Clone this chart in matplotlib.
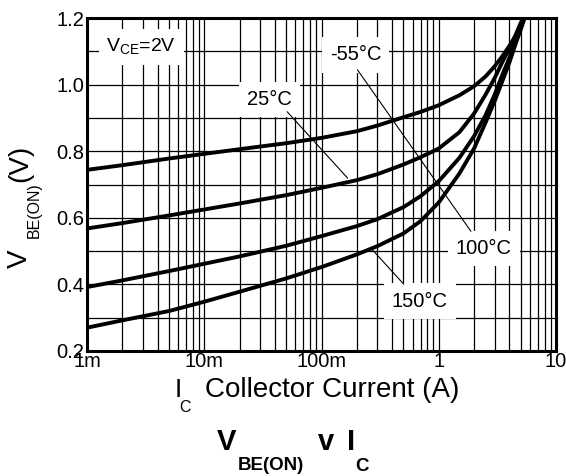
import matplotlib
matplotlib.use('Agg')
import matplotlib.pyplot as plt
from matplotlib.ticker import FixedLocator, FixedFormatter, LogLocator, NullFormatter

plt.rcParams['font.family'] = ['Liberation Sans', 'DejaVu Sans']
plt.rcParams['mathtext.fontset'] = 'custom'
plt.rcParams['mathtext.rm'] = 'Liberation Sans'
plt.rcParams['mathtext.bf'] = 'Liberation Sans:bold'

# collector current (A)
ic = [0.001, 0.002, 0.005, 0.01, 0.02, 0.05, 0.1, 0.2, 0.3, 0.5, 0.7, 1.0,
      1.5, 2.0, 2.5, 3.0, 3.5, 4.0, 4.5, 5.0]

# V_BE(ON) (V) per temperature
vbe_m55 = [0.744, 0.758, 0.778, 0.792, 0.806, 0.824, 0.840, 0.860, 0.877, 0.902, 0.918, 0.938,
           0.968, 0.995, 1.024, 1.055, 1.086, 1.116, 1.145, 1.178]
vbe_25 = [0.568, 0.584, 0.607, 0.625, 0.643, 0.668, 0.690, 0.713, 0.731, 0.760, 0.782, 0.808,
          0.857, 0.913, 0.969, 1.020, 1.069, 1.108, 1.147, 1.185]
vbe_100 = [0.392, 0.412, 0.440, 0.462, 0.484, 0.516, 0.545, 0.575, 0.596, 0.632, 0.665, 0.710,
           0.780, 0.845, 0.907, 0.970, 1.031, 1.080, 1.128, 1.170]
vbe_150 = [0.270, 0.292, 0.320, 0.348, 0.378, 0.418, 0.452, 0.490, 0.515, 0.553, 0.590, 0.646,
           0.733, 0.808, 0.885, 0.951, 1.012, 1.066, 1.120, 1.165]
# currents where the curves reach the top of the chart (1.2 V)
ic_end = [5.4, 5.25, 5.35, 5.4]

x_ticks = [0.001, 0.01, 0.1, 1, 10]
x_labels = ['1m', '10m', '100m', '1', '10']
y_ticks = [0.2, 0.4, 0.6, 0.8, 1.0, 1.2]
y_labels = ['0.2', '0.4', '0.6', '0.8', '1.0', '1.2']

W, H = 566, 476


def px(x, y):
    return x / W, 1 - y / H


fig = plt.figure(figsize=(W / 100, H / 100), dpi=100)
ax = fig.add_axes([87 / W, 1 - 351 / H, (556 - 87) / W, (351 - 18) / H])

series = [vbe_m55, vbe_25, vbe_100, vbe_150]
for v, xe in zip(series, ic_end):
    ax.plot(ic + [xe], v + [1.2], color='black', lw=2.8, zorder=3,
            solid_capstyle='butt', solid_joinstyle='round')

ax.set_xscale('log')
ax.set_xlim(0.001, 10)
ax.set_ylim(0.2, 1.2)

ax.xaxis.set_major_locator(FixedLocator(x_ticks))
ax.xaxis.set_major_formatter(FixedFormatter(x_labels))
ax.xaxis.set_minor_locator(LogLocator(base=10, subs=range(2, 10), numticks=20))
ax.xaxis.set_minor_formatter(NullFormatter())
ax.yaxis.set_major_locator(FixedLocator(y_ticks))
ax.yaxis.set_major_formatter(FixedFormatter(y_labels))
ax.yaxis.set_minor_locator(FixedLocator([0.3, 0.5, 0.7, 0.9, 1.1]))

ax.set_axisbelow(True)
ax.grid(True, which='both', color='black', lw=0.9)
ax.tick_params(which='both', length=0, labelsize=14.5, colors='black')
ax.tick_params(axis='x', pad=1)
ax.tick_params(axis='y', pad=2)
for s in ax.spines.values():
    s.set_linewidth(2.2)
    s.set_zorder(6)

box = dict(facecolor='white', edgecolor='none', boxstyle='square,pad=0.4')
ax.text(0.0029, 1.113, r'V$_{\mathregular{CE}}$=2V', fontsize=14, ha='center', va='center',
        bbox=box, zorder=4)
ax.text(0.195, 1.089, '-55°C', fontsize=14.5, ha='center', va='center', bbox=box, zorder=4)
ax.text(0.036, 0.954, '25°C', fontsize=14.5, ha='center', va='center', bbox=box, zorder=4)
ax.text(2.43, 0.509, '100°C', fontsize=14.5, ha='center', va='center', bbox=box, zorder=4)
ax.text(0.689, 0.350, '150°C', fontsize=14.5, ha='center', va='center', bbox=box, zorder=4)

# leader lines
ax.plot([0.203, 1.877], [1.044, 0.560], color='black', lw=0.8, zorder=5)
ax.plot([0.0511, 0.1667], [0.918, 0.7195], color='black', lw=0.8, zorder=5)
ax.plot([0.273, 0.502], [0.503, 0.401], color='black', lw=0.8, zorder=5)

# axis labels
kw = dict(ha='left', va='baseline', rotation_mode='anchor', color='black')
fig.text(*px(175, 397), 'I', fontsize=19, **kw)
fig.text(*px(179, 412), 'C', fontsize=11.5, **kw)
fig.text(*px(205, 397), 'Collector Current (A)', fontsize=20, **kw)

fig.text(*px(27, 268), 'V', fontsize=20, rotation=90, **kw)
fig.text(*px(39, 238), 'BE(ON)', fontsize=11.5, rotation=90, **kw)
fig.text(*px(27, 182), '(V)', fontsize=20, rotation=90, **kw)

# title
fig.text(*px(217, 450), 'V', fontsize=21, fontweight='bold', **kw)
fig.text(*px(238, 470), 'BE(ON)', fontsize=13.5, fontweight='bold', **kw)
fig.text(*px(318, 450), 'v', fontsize=21, fontweight='bold', **kw)
fig.text(*px(347, 450), 'I', fontsize=21, fontweight='bold', **kw)
fig.text(*px(355, 471), 'C', fontsize=13.5, fontweight='bold', **kw)

fig.savefig('out.png', dpi=100, facecolor='white')
